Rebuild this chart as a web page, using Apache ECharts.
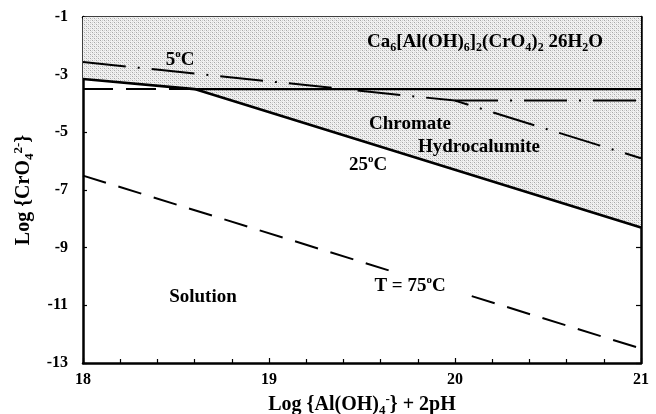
<!DOCTYPE html>
<html>
<head>
<meta charset="utf-8">
<script src="https://cdn.jsdelivr.net/npm/echarts@6/dist/echarts.min.js"></script>
<style>
  html, body { margin: 0; padding: 0; background: #fff; }
  #main { width: 656px; height: 414px; }
</style>
</head>
<body>
<div id="main"></div>
<script>
// phase boundaries, [Log{Al(OH)4-}+2pH, Log{CrO4 2-}]
var line25 = [[18, -3.15], [18.6, -3.5], [21, -8.3]];     // 25oC
var line5 = [[18, -2.56], [20, -3.9], [21, -5.9]];        // 5oC
var line5h = [[20, -3.9], [21, -3.9]];                    // 5oC horizontal branch
var line75 = [[18, -6.5], [21, -12.5]];                   // 75oC
var lineCa = [[18.6, -3.5], [21, -3.5]];                  // ettringite / hydrocalumite
var lineCaMeta = [[18, -3.5], [18.6, -3.5]];              // metastable part
var upperEdge = [[18, -3.15], [18.6, -3.5], [21, -3.5]];  // lower edge of Ca6 field
var hydroEdge = [[18.6, -3.5], [21, -8.3]];               // lower edge of hydrocalumite field

var xLabels = [18, 19, 20, 21];
var yLabels = [-1, -3, -5, -7, -9, -11, -13];

var FONT = '"Liberation Serif", "DejaVu Serif", serif';

// stipple fill
function stipple() {
    var c = document.createElement('canvas');
    c.width = 4; c.height = 4;
    var g = c.getContext('2d');
    g.fillStyle = '#f2f2f2';
    g.fillRect(0, 0, 4, 4);
    g.fillStyle = '#a8a8a8';
    g.fillRect(0, 0, 1, 1);
    g.fillRect(2, 2, 1, 1);
    g.fillStyle = '#cfcfcf';
    g.fillRect(2, 0, 1, 1);
    g.fillRect(0, 2, 1, 1);
    g.fillStyle = '#e0e0e0';
    g.fillRect(1, 1, 1, 1);
    g.fillRect(3, 3, 1, 1);
    return { image: c, repeat: 'repeat' };
}

var myChart = echarts.init(document.getElementById('main'));

function txt(x, y, text, size, extra) {
    var lh = size + 4;
    var st = {
        text: text,
        fontFamily: FONT, fontWeight: 'bold', fontSize: size, fill: '#000',
        align: 'center', verticalAlign: 'middle',
        rich: {
            b: { fontFamily: FONT, fontWeight: 'bold', fontSize: size, color: '#000', lineHeight: lh },
            s: { fontFamily: FONT, fontWeight: 'bold', fontSize: Math.round(size * 0.62), color: '#000', verticalAlign: 'bottom', lineHeight: lh },
            p: { fontFamily: FONT, fontWeight: 'bold', fontSize: Math.round(size * 0.6), color: '#000', verticalAlign: 'top', lineHeight: lh }
        }
    };
    if (extra) { for (var k in extra) st[k] = extra[k]; }
    return { type: 'text', x: x, y: y, z: 10, style: st };
}

var nameRich = {
    s: { fontFamily: FONT, fontWeight: 'bold', fontSize: 13, color: '#000', verticalAlign: 'bottom', lineHeight: 24 },
    p: { fontFamily: FONT, fontWeight: 'bold', fontSize: 13, color: '#000', verticalAlign: 'top', lineHeight: 24 }
};

var option = {
    animation: false,
    backgroundColor: '#fff',
    grid: { left: 83, right: 15, top: 17, bottom: 51, outerBoundsMode: 'none' },
    xAxis: [{
        type: 'value', min: 18, max: 21, interval: 1,
        name: 'Log {Al(OH){s|4}{p|-}} + 2pH',
        nameLocation: 'middle', nameGap: 26,
        nameTextStyle: {
            fontFamily: FONT, fontWeight: 'bold', fontSize: 20, color: '#000', lineHeight: 24,
            rich: nameRich
        },
        axisLine: { lineStyle: { color: '#000', width: 2.5 } },
        axisTick: { inside: true, length: 5, lineStyle: { color: '#000', width: 1.2 } },
        minorTick: { show: true, splitNumber: 5, length: 4, lineStyle: { color: '#000', width: 1.2 } },
        axisLabel: {
            color: '#000', fontFamily: FONT, fontWeight: 'bold', fontSize: 16, margin: 9,
            formatter: function (v) { return xLabels.indexOf(v) >= 0 ? String(v) : ''; }
        },
        splitLine: { show: false }
    }, {
        type: 'value', min: 18, max: 21, interval: 1, position: 'top',
        axisLine: { lineStyle: { color: '#000', width: 2.5 } },
        axisTick: { inside: true, length: 5, lineStyle: { color: '#000', width: 1.2 } },
        minorTick: { show: true, splitNumber: 5, length: 4, lineStyle: { color: '#000', width: 1.2 } },
        axisLabel: { show: false },
        splitLine: { show: false }
    }],
    yAxis: [{
        type: 'value', min: -13, max: -1, interval: 2,
        name: 'Log {CrO{s|4}{p|2-}}',
        nameLocation: 'middle', nameGap: 40, nameRotate: 90,
        nameTextStyle: {
            fontFamily: FONT, fontWeight: 'bold', fontSize: 20, color: '#000', lineHeight: 24,
            rich: nameRich
        },
        axisLine: { lineStyle: { color: '#000', width: 2.5 } },
        axisTick: { inside: true, length: 4, lineStyle: { color: '#000', width: 1.2 } },
        axisLabel: {
            color: '#000', fontFamily: FONT, fontWeight: 'bold', fontSize: 16, margin: 15,
            formatter: function (v) { return yLabels.indexOf(v) >= 0 ? String(v) : ''; }
        },
        splitLine: { show: false }
    }, {
        type: 'value', min: -13, max: -1, interval: 2, position: 'right',
        axisLine: { lineStyle: { color: '#000', width: 2.5 } },
        axisTick: { inside: true, length: 5, lineStyle: { color: '#000', width: 1.2 } },
        axisLabel: { show: false },
        splitLine: { show: false }
    }],
    series: [
        {   // Ca6[Al(OH)6]2(CrO4)2 field
            type: 'line', data: upperEdge, symbol: 'none', z: 1,
            lineStyle: { width: 0 },
            areaStyle: { origin: 'end', color: stipple(), opacity: 1 }
        },
        {   // hydrocalumite field
            type: 'line', data: hydroEdge, symbol: 'none', z: 1,
            lineStyle: { width: 0 },
            areaStyle: { origin: -3.5, color: stipple(), opacity: 1 }
        },
        {
            name: '25', type: 'line', data: line25, symbol: 'none', z: 3,
            lineStyle: { color: '#000', width: 2.6, type: 'solid' }
        },
        {
            name: 'Ca', type: 'line', data: lineCa, symbol: 'none', z: 3,
            lineStyle: { color: '#000', width: 2.2, type: 'solid' }
        },
        {
            name: 'Ca meta', type: 'line', data: lineCaMeta, symbol: 'none', z: 3,
            lineStyle: { color: '#000', width: 2, type: [30, 13] }
        },
        {
            name: '5', type: 'line', data: line5, symbol: 'none', z: 3,
            lineStyle: { color: '#000', width: 2, type: [43, 12, 2, 12] }
        },
        {
            name: '5h', type: 'line', data: line5h, symbol: 'none', z: 3,
            lineStyle: { color: '#000', width: 2, type: [43, 12, 2, 12] }
        },
        {
            name: '75', type: 'line', data: line75, symbol: 'none', z: 3,
            lineStyle: { color: '#000', width: 2, type: [24, 13] }
        }
    ],
    graphic: [
        txt(180, 60, '{b|5}{p|o}{b|C}', 19),
        txt(485, 42, '{b|Ca}{s|6}{b|[Al(OH)}{s|6}{b|]}{s|2}{b|(CrO}{s|4}{b|)}{s|2}{b| 26H}{s|2}{b|O}', 19),
        txt(410, 124, '{b|Chromate}', 19),
        txt(479, 147, '{b|Hydrocalumite}', 19),
        txt(368, 165, '{b|25}{p|o}{b|C}', 19),
        txt(203, 297, '{b|Solution}', 19),
        txt(418, 286, '{b|T = 75}{p|o}{b|C}', 19, { backgroundColor: '#fff', padding: [3, 24, 3, 8] })
    ]
};

myChart.setOption(option);
</script>
</body>
</html>
